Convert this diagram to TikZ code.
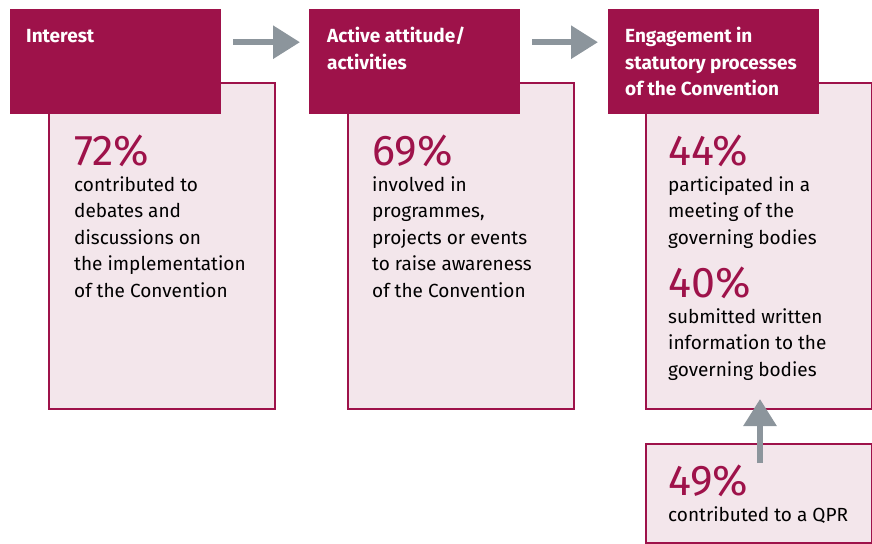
\documentclass[tikz,border=0pt]{standalone}
\usepackage{fontspec}
\setmainfont{Fira Sans}
\usetikzlibrary{arrows.meta}
\definecolor{berry}{HTML}{9E124A}
\definecolor{blush}{HTML}{F3E6EB}
\definecolor{slate}{HTML}{8C959C}

\begin{document}
\begin{tikzpicture}[x=1pt, y=-1pt,
  head/.style={fill=berry, draw=none, minimum width=211pt, minimum height=105pt, anchor=north west},
  card/.style={fill=blush, draw=berry, line width=2pt, minimum width=226pt, anchor=north west},
  title/.style={anchor=base west, inner sep=0pt, text=white, font=\fontsize{19}{26.5}\selectfont\bfseries},
  pct/.style={anchor=base west, inner sep=0pt, text=berry, font=\fontsize{43}{46}\selectfont},
  txt/.style={anchor=base west, inner sep=0pt, font=\fontsize{19}{26.5}\selectfont},
  flow/.style={draw=slate, line width=6pt, -{Triangle[length=27pt, width=32pt]}}]
\useasboundingbox (0,0) rectangle (872,543);
\node[card, minimum height=326pt] (c1) at (48,82) {};
\node[card, minimum height=326pt] (c2) at (347,82) {};
\node[card, minimum height=326pt] (c3) at (645,82) {};
\node[card, minimum height=99pt] (low) at (645,443) {};
\node[head] (h1) at (10,9) {};
\node[head] (h2) at (309,9) {};
\node[head] (h3) at (608,9) {};
\node[title] (t1) at (26,43) {\parbox[t]{190pt}{Interest}};
\node[title] (t2) at (327,43) {\parbox[t]{190pt}{Active attitude/\\activities}};
\node[title] (t3) at (625,43) {\parbox[t]{190pt}{Engagement in\\statutory processes\\of the Convention}};
\node[pct] (p1) at (74,165) {72\%};
\node[txt] (d1) at (74,191) {\parbox[t]{195pt}{contributed to\\debates and\\discussions on\\the implementation\\of the Convention}};
\node[pct] (p2) at (372,165) {69\%};
\node[txt] (d2) at (372,191) {\parbox[t]{195pt}{involved in\\programmes,\\projects or events\\to raise awareness\\of the Convention}};
\node[pct] (p3) at (668,165) {44\%};
\node[txt] (d3) at (668,191) {\parbox[t]{195pt}{participated in a\\meeting of the\\governing bodies}};
\node[pct] (p4) at (668,297) {40\%};
\node[txt] (d4) at (668,323) {\parbox[t]{195pt}{submitted written\\information to the\\governing bodies}};
\node[pct] (p5) at (668,495) {49\%};
\node[txt] (d5) at (668,521) {contributed to a QPR};
\draw[flow] ([xshift=12pt, yshift=19.5pt]h1.east) -- ([xshift=-9pt, yshift=19.5pt]h2.west);
\draw[flow] ([xshift=12pt, yshift=19.5pt]h2.east) -- ([xshift=-10pt, yshift=19.5pt]h3.west);
\draw[flow] ([xshift=1pt, yshift=-20pt]low.north) -- ([xshift=1pt, yshift=11pt]c3.south);
\end{tikzpicture}
\end{document}
